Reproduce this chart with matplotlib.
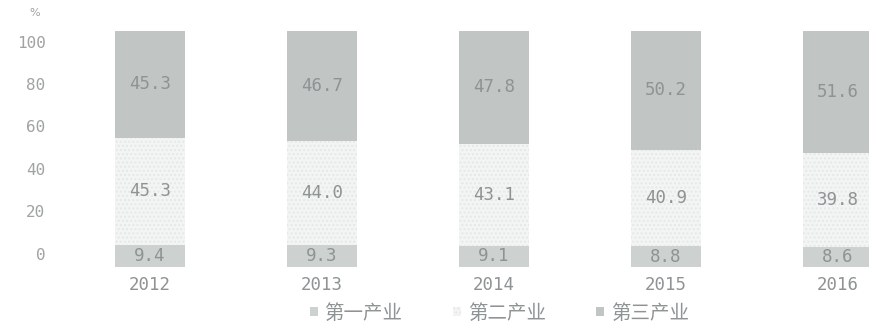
import matplotlib
matplotlib.use("Agg")
import matplotlib.pyplot as plt
import numpy as np

years = ["2012", "2013", "2014", "2015", "2016"]
primary = [9.4, 9.3, 9.1, 8.8, 8.6]
secondary = [45.3, 44.0, 43.1, 40.9, 39.8]
tertiary = [45.3, 46.7, 47.8, 50.2, 51.6]
series_names = ["第一产业", "第二产业", "第三产业"]
ytick_values = [0, 20, 40, 60, 80, 100]

c_primary = "#cdd1d0"
c_secondary = "#f3f4f4"
c_tertiary = "#c1c5c4"
c_text = "#8e9393"

W, H = 870, 329
fig = plt.figure(figsize=(W / 100, H / 100), dpi=100)
fig.patch.set_facecolor("white")

# main plotting area: bars span 0..100 %
ax_l, ax_r = 60, 870
ax_b, ax_t = 267, 31
ax = fig.add_axes([ax_l / W, (H - ax_b) / H, (ax_r - ax_l) / W, (ax_b - ax_t) / H])
x = np.arange(len(years))
spacing = 172.0
ax.set_xlim(-(150 - ax_l) / spacing, len(years) - 1 + (ax_r - 838) / spacing)
ax.set_ylim(0, 100)
ax.axis("off")

width = 70 / spacing
b1 = ax.bar(x, primary, width, color=c_primary, linewidth=0)
b2 = ax.bar(x, secondary, width, bottom=primary, color=c_secondary,
            edgecolor="#e6e7e7", hatch="....", linewidth=0)
bottom3 = np.array(primary) + np.array(secondary)
b3 = ax.bar(x, tertiary, width, bottom=bottom3, color=c_tertiary, linewidth=0)

num_font = dict(family="DejaVu Sans Mono", fontsize=12.5, color=c_text)
for i in range(len(years)):
    ax.text(x[i], primary[i] / 2, f"{primary[i]:.1f}", ha="center", va="center", **num_font)
    ax.text(x[i], primary[i] + secondary[i] / 2, f"{secondary[i]:.1f}",
            ha="center", va="center", **num_font)
    ax.text(x[i], bottom3[i] + tertiary[i] / 2, f"{tertiary[i]:.1f}",
            ha="center", va="center", **num_font)
    ax.text(x[i], -4, years[i], ha="center", va="top", clip_on=False, **num_font)

# value axis drawn on its own scale at the left
lab_b, lab_t = 255, 43
scale = (lab_b - lab_t) / 100.0
ay = fig.add_axes([0, (H - ax_b) / H, ax_l / W, (ax_b - ax_t) / H])
ay.set_ylim(-(ax_b - lab_b) / scale, 100 + (lab_t - ax_t) / scale)
ay.set_xlim(0, 1)
for v in ytick_values:
    ay.text(0.76, v, str(v), ha="right", va="center", family="DejaVu Sans Mono",
            fontsize=11.5, color="#a0a3a3")
ay.text(0.58, 100 + (lab_t - 13) / scale, "%", ha="center", va="center",
        family="DejaVu Sans", fontsize=8, color="#a0a3a3", clip_on=False)
ay.axis("off")

handles = [b1, b2, b3]
leg = fig.legend(handles, series_names, loc="center", ncol=3,
                 bbox_to_anchor=(0.574, 1 - 313 / H), frameon=False,
                 handlelength=0.4, handleheight=0.4, handletextpad=0.35,
                 columnspacing=2.6,
                 prop={"family": ["Noto Sans CJK SC", "DejaVu Sans"], "size": 14})
for t in leg.get_texts():
    t.set_color(c_text)

fig.savefig("out.png", dpi=100, facecolor="white")
